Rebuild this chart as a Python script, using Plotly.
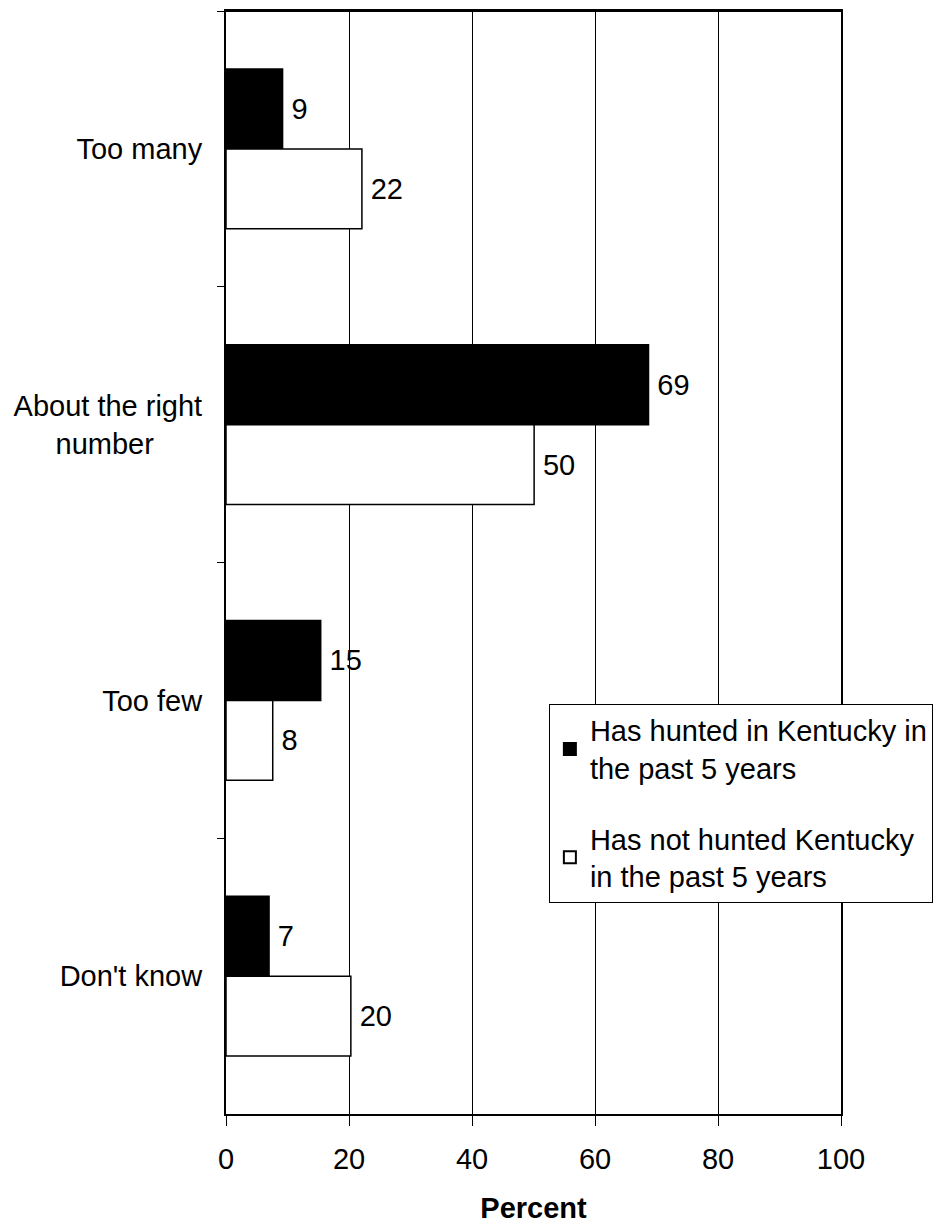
import plotly.graph_objects as go

categories = ["Too many", "About the right<br>number" + "\u00a0" * 6, "Too few", "Don't know"]
hunted = [9.2, 68.7, 15.4, 7.0]
not_hunted = [22.1, 50.1, 7.6, 20.3]
series_names = ["Has hunted in Kentucky in<br>the past 5 years",
                "Has not hunted Kentucky<br>in the past 5 years"]
x_ticks = [0, 20, 40, 60, 80, 100]

FONT = "Liberation Sans, Arial, sans-serif"
FS = 29

fig = go.Figure()
fig.add_trace(go.Bar(
    y=categories, x=hunted, orientation="h", name=series_names[0], legendgroup="a",
    marker=dict(color="black", line=dict(color="black", width=1.5)),
    texttemplate="\u2009%{x:.0f}", textposition="outside",
    textfont=dict(size=FS, color="black", family=FONT), cliponaxis=False,
))
fig.add_trace(go.Bar(
    y=categories, x=not_hunted, orientation="h", name=series_names[1], legendgroup="b",
    marker=dict(color="white", line=dict(color="black", width=1.5)),
    texttemplate="\u2009%{x:.0f}", textposition="outside",
    textfont=dict(size=FS, color="black", family=FONT), cliponaxis=False,
))

fig.update_layout(
    width=937, height=1216,
    margin=dict(l=218, r=104, t=3, b=110, autoexpand=False),
    paper_bgcolor="white", plot_bgcolor="white",
    font=dict(family=FONT, size=FS, color="black"),
    barmode="group", bargap=0.42, bargroupgap=0,
    showlegend=True,
    legend=dict(
        x=0.525, y=0.372, xanchor="left", yanchor="top",
        bgcolor="white", bordercolor="black", borderwidth=1,
        font=dict(size=FS, family=FONT, color="black"),
        tracegroupgap=30, itemsizing="constant",
    ),
    xaxis=dict(
        range=[0, 100], tickvals=x_ticks, ticks="outside", ticklen=10,
        tickcolor="black", showgrid=True, gridcolor="black", gridwidth=1,
        showline=True, linecolor="black", linewidth=2, mirror=True,
        zeroline=False, tickfont=dict(size=FS), ticklabelstandoff=8,
        title=dict(text="<b>Percent</b>", font=dict(size=FS), standoff=32),
    ),
    yaxis=dict(
        autorange="reversed", ticks="outside", tickson="boundaries", ticklen=7,
        tickcolor="black", showgrid=False, showline=True, linecolor="black",
        linewidth=2, mirror=True, tickfont=dict(size=FS), ticklabelstandoff=16,
    ),
    shapes=[dict(type="line", xref="paper", yref="paper", x0=0, x1=1, y0=1, y1=1,
                 line=dict(color="black", width=2), layer="above")],
)

fig.write_html("out.html")
